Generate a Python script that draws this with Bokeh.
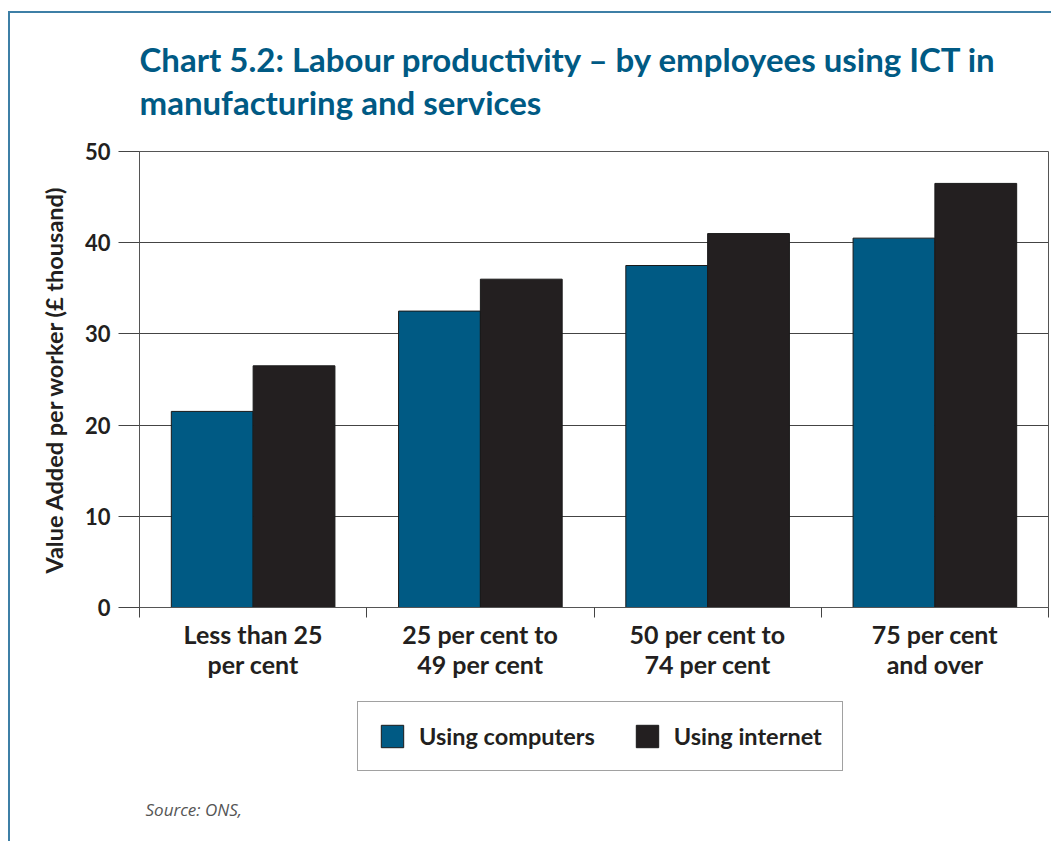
from bokeh.plotting import figure
from bokeh.layouts import column
from bokeh.models import FixedTicker, Legend, LegendItem, Range1d, Label
from bokeh.embed import file_html
from bokeh.resources import INLINE

categories = ["Less than 25\nper cent", "25 per cent to\n49 per cent",
              "50 per cent to\n74 per cent", "75 per cent\nand over"]
using_computers = [21.5, 32.5, 37.5, 40.5]
using_internet = [26.5, 36.0, 41.0, 46.5]
y_ticks = [0, 10, 20, 30, 40, 50]
series_names = ["Using computers", "Using internet"]
title_lines = ["Chart 5.2: Labour productivity \u2013 by employees using ICT in",
               "manufacturing and services"]
source_text = "Source: ONS,"

BLUE = "#005a84"
BLACK = "#231f20"
FRAME = "#3d7fa6"
FONT = "Lato"

W = 1051
H0, H1, H2 = 130, 570, 141
FL, FR = 139, 1048
FT, FB = 151 - H0, 607 - H0     # chart frame inside the middle figure

line_v = f"linear-gradient({FRAME},{FRAME}) 8px 11px / 2px 100% no-repeat"
line_h = f"linear-gradient({FRAME},{FRAME}) 8px 11px / 100% 2px no-repeat"
line_v0 = f"linear-gradient({FRAME},{FRAME}) 8px 0px / 2px 100% no-repeat"

def strip(height, bg):
    s = figure(width=W, height=height, output_backend="svg", toolbar_location=None,
               x_range=Range1d(FL, FR), y_range=Range1d(height, 0),
               x_axis_location=None, y_axis_location=None, min_border=0)
    s.styles = {"background": bg}
    s.border_fill_alpha = 0
    s.background_fill_alpha = 0
    s.outline_line_color = None
    s.grid.grid_line_color = None
    return s

# ---------------- title strip ----------------
p0 = strip(H0, f"{line_v}, {line_h}, white")
for line, base in zip(title_lines, [58, 101]):
    p0.add_layout(Label(x=139, y=base, text=line, text_font=FONT, text_font_style="bold",
                        text_font_size="33px", text_color=BLUE, text_baseline="alphabetic"))

# ---------------- main chart ----------------
p = figure(width=W, height=H1, output_backend="svg", toolbar_location=None,
           x_range=Range1d(0, len(categories)), y_range=Range1d(0, 50),
           min_border_left=FL, min_border_right=W - FR, min_border_top=FT,
           min_border_bottom=H1 - FB)
p.styles = {"background": f"{line_v0}, white"}
p.border_fill_alpha = 0

idx = list(range(len(categories)))
bw = 0.36
bar_styles = [dict(fill_color=BLUE, line_color="#1a1a1a", line_width=1),
              dict(fill_color=BLACK, line_color="#1a1a1a", line_width=1)]
r1 = p.vbar(x=[i + 0.5 - bw / 2 for i in idx], top=using_computers, width=bw, **bar_styles[0])
r2 = p.vbar(x=[i + 0.5 + bw / 2 for i in idx], top=using_internet, width=bw, **bar_styles[1])

p.background_fill_color = "white"
p.outline_line_color = "#555555"
p.outline_line_width = 1
p.xgrid.grid_line_color = None
p.ygrid.grid_line_color = "#444444"
p.ygrid.grid_line_width = 1

p.yaxis.ticker = FixedTicker(ticks=y_ticks)
p.yaxis.axis_line_color = "#555555"
p.yaxis.major_tick_line_color = "#444444"
p.yaxis.major_tick_out = 21
p.yaxis.major_tick_in = 0
p.yaxis.minor_tick_line_color = None
p.yaxis.major_label_text_font = FONT
p.yaxis.major_label_text_font_style = "bold"
p.yaxis.major_label_text_font_size = "22px"
p.yaxis.major_label_text_color = BLACK
p.yaxis.major_label_standoff = 8
p.yaxis.axis_label = "Value Added per worker (\u00a3 thousand)"
p.yaxis.axis_label_text_font = FONT
p.yaxis.axis_label_text_font_style = "bold"
p.yaxis.axis_label_text_font_size = "23.5px"
p.yaxis.axis_label_text_color = BLACK
p.yaxis.axis_label_standoff = 14

p.xaxis.ticker = FixedTicker(ticks=[i + 0.5 for i in idx], minor_ticks=list(range(len(categories) + 1)))
p.xaxis.major_label_overrides = {i + 0.5: c for i, c in zip(idx, categories)}
p.xaxis.axis_line_color = "#555555"
p.xaxis.major_tick_line_color = None
p.xaxis.major_tick_out = 0
p.xaxis.major_tick_in = 0
p.xaxis.minor_tick_line_color = "#444444"
p.xaxis.minor_tick_out = 10
p.xaxis.minor_tick_in = 0
p.xaxis.major_label_text_font = FONT
p.xaxis.major_label_text_font_style = "bold"
p.xaxis.major_label_text_font_size = "25px"
p.xaxis.major_label_text_line_height = 1.0
p.xaxis.major_label_text_color = BLACK
p.xaxis.major_label_standoff = 1

# ---------------- legend + source strip ----------------
p2 = strip(H2, f"{line_v0}, white")
# hidden copies of the two series, used only as legend keys
g1 = p2.vbar(x=[i + 0.5 - bw / 2 for i in idx], top=using_computers, width=bw,
             visible=False, **bar_styles[0])
g2 = p2.vbar(x=[i + 0.5 + bw / 2 for i in idx], top=using_internet, width=bw,
             visible=False, **bar_styles[1])

legend = Legend(items=[LegendItem(label=series_names[0], renderers=[g1]),
                       LegendItem(label=series_names[1], renderers=[g2])],
                orientation="horizontal", location=(357 - FL, H2 - 71),
                click_policy="none", inactive_fill_alpha=0,
                label_text_font=FONT, label_text_font_style="bold",
                label_text_font_size="23.5px", label_text_color=BLACK,
                glyph_width=28, glyph_height=28, label_standoff=13,
                spacing=38, padding=20, margin=0,
                border_line_color="#444444", border_line_width=1.5,
                background_fill_color="white", background_fill_alpha=1)
p2.add_layout(legend, "center")

src = Label(x=145, y=109, text=source_text, text_font="Open Sans",
            text_font_style="italic", text_font_size="17px", text_color="#555555",
            text_baseline="alphabetic")
p2.add_layout(src)

layout = column(p0, p, p2, spacing=0)
open("out.html", "w").write(file_html(layout, INLINE))
